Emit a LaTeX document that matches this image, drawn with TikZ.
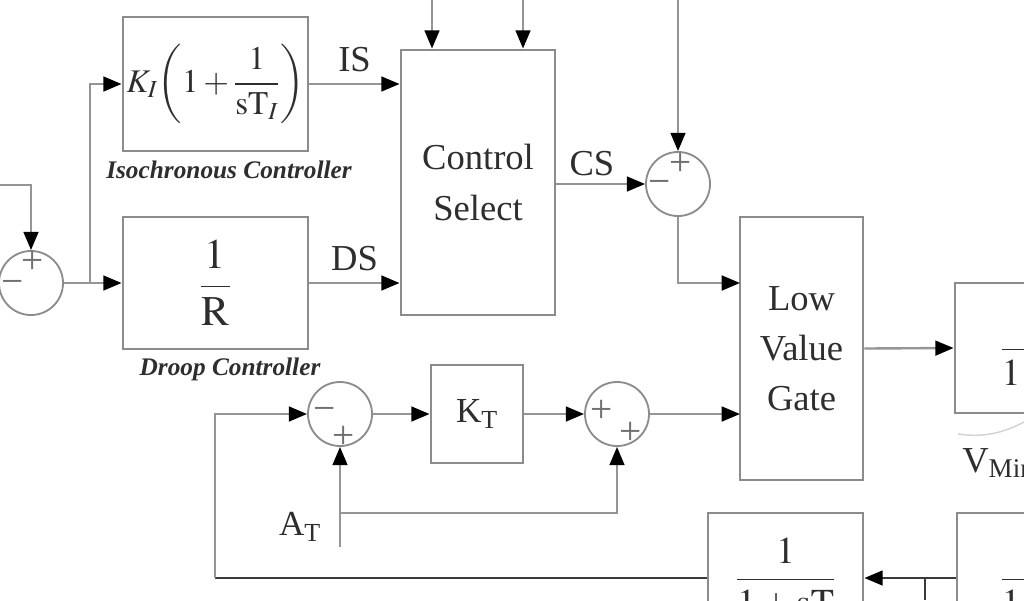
\documentclass[tikz,border=0pt]{standalone}
\usepackage{mathptmx}
\usepackage[no-math]{fontspec}
\setmainfont{Liberation Serif}
\usetikzlibrary{arrows.meta,calc}
\definecolor{boxc}{HTML}{8C8C8C}
\definecolor{linec}{HTML}{959595}
\definecolor{darkl}{HTML}{3A3A3A}
\definecolor{txt}{HTML}{2E2E2E}
\begin{document}
\begin{tikzpicture}[x=0.025cm,y=-0.025cm,
  blk/.style={draw=boxc, line width=2pt, fill=white, inner sep=0pt, text=txt, align=center},
  sumj/.style={circle, draw=boxc, line width=1.3pt, minimum size=1.6cm, inner sep=0pt},
  conn/.style={draw=linec, line width=1.7pt},
  arr/.style={conn, -{Triangle[length=13pt,width=10.5pt,color=black]}},
  sgn/.style={text=boxc!80!black, font=\fontsize{28}{28}\selectfont, inner sep=0pt},
  lbl/.style={text=txt, font=\fontsize{26}{28}\selectfont, inner sep=0pt},
  capt/.style={text=txt, font=\fontsize{18}{20}\selectfont\bfseries\itshape, inner sep=0pt}]
\useasboundingbox (0,0) rectangle (1024,600);
\clip (0,0) rectangle (1024,600);
\fill[white] (0,0) rectangle (1024,600);

% blocks
\node[blk, minimum width=4.625cm, minimum height=3.35cm] (iso) at (215.5,84)
  {\fontsize{23.5}{27}\selectfont $\displaystyle K_I\!\left(1+\frac{1}{\mathrm{sT}_I}\right)$};
\node[capt] (isocap) at (229,170) {Isochronous Controller};
\node[blk, minimum width=4.625cm, minimum height=3.3cm] (droop) at (215.5,283)
  {\fontsize{30}{32}\selectfont $\displaystyle\frac{1}{\mathrm{R}}$};
\node[capt] (droopcap) at (230,369) {Droop Controller};
\node[blk, minimum width=3.85cm, minimum height=6.625cm, font=\fontsize{26}{36}\selectfont] (cs) at (478,182.5) {Control\\Select};
\node[blk, minimum width=3.075cm, minimum height=6.575cm, font=\fontsize{26}{35.5}\selectfont] (lvg) at (801.5,348.5) {Low\\Value\\Gate};
\node[blk, minimum width=2.3cm, minimum height=2.45cm, font=\fontsize{25}{27}\selectfont] (kt) at (477,414) {K\textsubscript{T}};
\node[blk, minimum width=4.75cm, minimum height=3.25cm] (vbox) at (1050,348)
  {\fontsize{27}{30}\selectfont $\displaystyle\frac{1}{1+\mathrm{sT}}$};
\node[blk, minimum width=3.875cm, minimum height=3.25cm] (low) at (785.5,578)
  {\fontsize{27}{30}\selectfont $\displaystyle\frac{1}{1+\mathrm{sT}}$};
\node[blk, minimum width=4.65cm, minimum height=3.25cm] (rb) at (1050,578)
  {\fontsize{27}{30}\selectfont $\displaystyle\frac{1}{1+\mathrm{sT}}$};
\node[lbl, anchor=west] (vmin) at (962,463) {V\textsubscript{Min}};
\node[lbl, font=\fontsize{25}{27}\selectfont] (atl) at (300,527) {A\textsubscript{T}};

% summing junctions
\node[sumj] (j1) at (31,283) {};
\node[sgn] at (33,262) {+}; \node[sgn] at (13,287) {−};
\node[sumj] (j2) at (678,184) {};
\node[sgn] at (681,164) {+}; \node[sgn] at (660,187) {−};
\node[sumj] (j3) at (340,414) {};
\node[sgn] at (325,414) {−}; \node[sgn] at (344,437) {+};
\node[sumj] (j4) at (617,414) {};
\node[sgn] at (602,411) {+}; \node[sgn] at (631,433) {+};

% free ends / branch points
\coordinate (inL) at (0,185);
\coordinate (br1) at (90,283);
\coordinate (t1) at (432,0);
\coordinate (t2) at (523,0);
\coordinate (t3) at (678,0);
\coordinate (lvgin1) at (740,283);
\coordinate (lvgin2) at (740,414);
\coordinate (lp) at (215,578);
\coordinate (lp2) at (215,414);
\coordinate (at) at (340,547);
\coordinate (atbr) at (340,513);
\coordinate (bj) at (925,578);
\coordinate (bj2) at (925,600);

% connectors
\draw[arr] (inL) -| (j1.north);
\draw[arr] (j1.east) -- (droop.west);
\draw[arr] (br1) |- (iso.west);
\draw[arr] (iso.east) -- (iso.east -| cs.west) node[lbl, midway, above=8pt] {IS};
\draw[arr] (droop.east) -- (droop.east -| cs.west) node[lbl, midway, above=8pt] {DS};
\draw[arr] (t1) -- (t1 |- cs.north);
\draw[arr] (t2) -- (t2 |- cs.north);
\draw[arr] (cs.east |- j2.west) -- (j2.west) node[lbl, pos=0.4, above=5pt] {CS};
\draw[arr] (t3) -- (j2.north);
\draw[arr] (j2.south) |- (lvgin1);
\draw[arr] (lvg.east) -- (vbox.west);
\draw[conn, draw=darkl] (low.west) -- (lp);
\draw[arr] (lp) -- (lp2) -- (j3.west);
\draw[arr] (j3.east) -- (kt.west);
\draw[arr] (kt.east) -- (j4.west);
\draw[arr] (j4.east) -- (lvgin2);
\draw[arr] (at) -- (j3.south);
\draw[arr] (atbr) -| (j4.south);
\draw[arr, draw=darkl] (rb.west) -- (low.east);
\draw[conn, draw=darkl] (bj) -- (bj2);
\draw[gray!35, line width=1pt] (958,434) .. controls (985,438) and (1005,432) .. (1024,422);
\end{tikzpicture}
\end{document}
